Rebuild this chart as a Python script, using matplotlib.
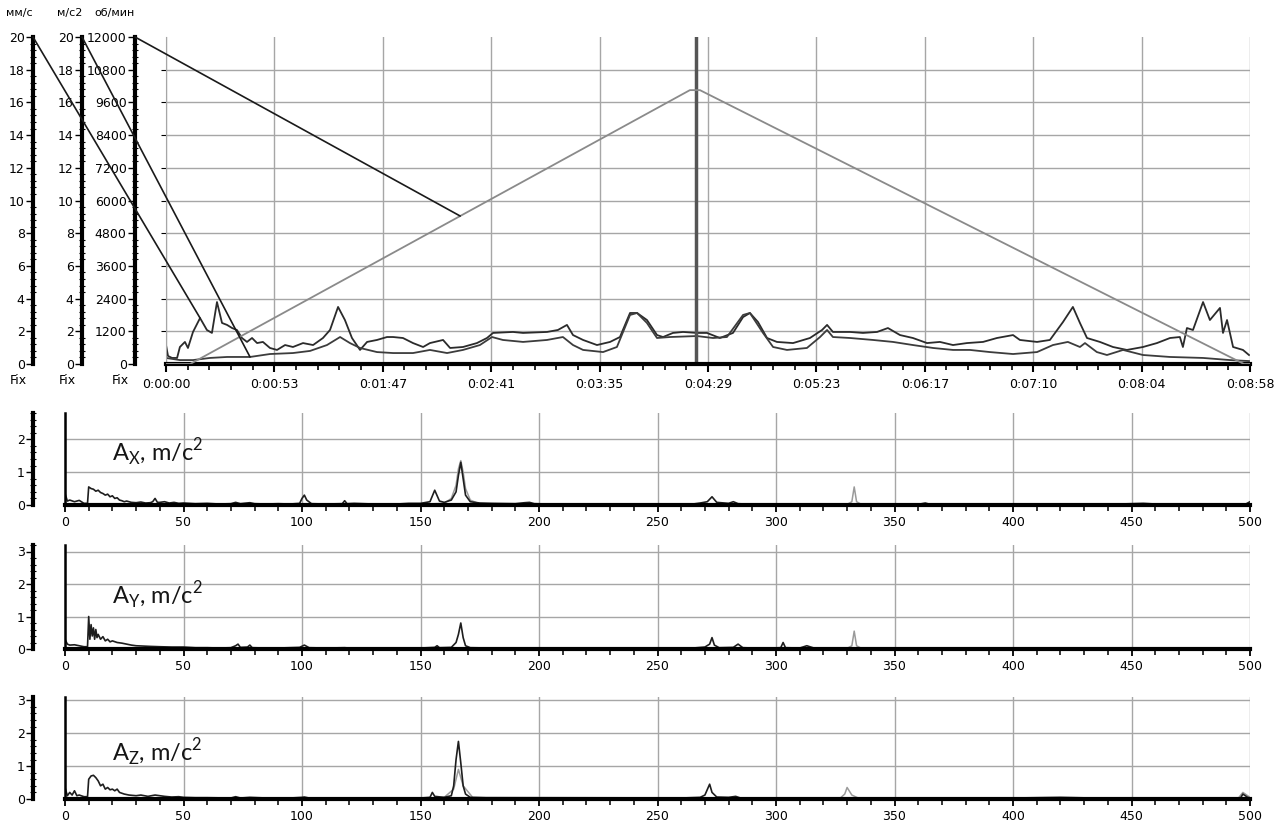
import numpy as np
import matplotlib
matplotlib.use('Agg')
import matplotlib.pyplot as plt
from matplotlib.ticker import MultipleLocator, FixedLocator
from matplotlib.patches import ConnectionPatch

plt.rcParams['font.family'] = ['DejaVu Sans']
plt.rcParams['mathtext.fontset'] = 'custom'
plt.rcParams['mathtext.rm'] = 'Lato'

# --- trend data (time in s, values in mm/s and m/s2, rpm) ---
t_a = [0, 1.0, 3.0, 5.5, 6.9, 9.4, 10.9, 13.4, 16.9, 20.3, 22.8, 25.3, 27.8, 30.3, 32.8, 35.2, 37.7, 40.2, 42.7, 45.2,
       48.1, 51.6, 55.1, 59.1, 63.0, 68.0, 73.0, 77.9, 81.4, 85.4, 88.8, 92.3, 96.3, 99.8, 104.7, 109.7, 112.7, 117.6, 122.6, 127.6,
       131.0, 137.5, 141.0, 147.4, 154.3, 159.3, 162.3, 172.2, 177.2, 189.1, 194.5, 199.0, 202.0, 207.0, 213.9, 220.4, 225.3,
       230.3, 233.8, 238.7, 243.7, 246.7, 251.6, 256.6, 263.5, 268.5,
       274.9, 281.4, 286.4, 289.8, 293.8, 298.3, 303.2, 311.2, 319.6, 325.6, 328.1, 331.0, 339.5, 345.9, 352.9, 358.3, 364.3,
       370.7, 377.7, 384.1, 390.6, 397.5,
       405.5, 412.4, 420.4, 423.8, 432.3, 438.7, 445.2, 450.1, 453.6, 457.1, 463.5, 470.0, 476.9, 484.9, 491.8, 498.3, 503.2,
       504.7, 506.7, 509.7, 514.7, 518.1, 523.1, 524.6, 526.6, 529.6, 534.5, 537.5]
v_a = [1.16, 0.49, 0.37, 0.37, 1.04, 1.35, 0.98, 1.96, 2.81, 2.08, 1.90, 3.79, 2.51, 2.39, 2.20, 2.08, 1.59, 1.35, 1.59, 1.28,
       1.35, 0.98, 0.86, 1.16, 1.04, 1.28, 1.16, 1.59, 2.08, 3.49, 2.69, 1.59, 0.86, 1.35, 1.47, 1.65, 1.65, 1.59, 1.28, 1.04,
       1.28, 1.47, 0.98, 1.04, 1.28, 1.59, 1.90, 1.96, 1.90, 1.96, 2.08, 2.39, 1.77, 1.47, 1.16, 1.35, 1.65,
       3.12, 3.12, 2.69, 1.77, 1.65, 1.90, 1.96, 1.90, 1.90,
       1.59, 1.90, 2.87, 3.12, 2.57, 1.59, 1.35, 1.28, 1.59, 2.08, 2.39, 1.96, 1.96, 1.90, 1.96, 2.20, 1.77,
       1.59, 1.28, 1.35, 1.16, 1.28,
       1.35, 1.59, 1.77, 1.47, 1.35, 1.47, 2.57, 3.49, 2.51, 1.59, 1.35, 1.04, 0.86, 1.04, 1.28, 1.59, 1.65,
       1.04, 2.20, 2.08, 3.79, 2.69, 3.43, 1.90, 2.69, 1.04, 0.86, 0.55]

t_b = [0, 6.9, 13.4, 21.8, 30.3, 41.7, 51.6, 63.0, 71.5, 79.9, 86.4, 91.3, 96.3, 104.7, 112.7, 122.6,
       131.0, 139.5, 147.4, 155.8, 161.8, 167.2, 177.2, 189.1, 197.0, 202.0, 207.0, 216.9, 223.8, 230.3, 233.8, 238.7, 243.7, 250.1, 263.5,
       271.5, 278.4, 286.4, 289.8, 296.3, 301.3, 308.2, 318.1, 324.6, 328.1, 331.0, 339.5, 350.9, 360.8, 370.7, 380.7, 390.6,
       399.0, 408.9, 420.4, 432.3, 440.2, 447.6, 453.6, 456.1, 462.0, 467.0, 475.0, 484.9, 498.3, 514.7, 528.1, 537.5]
v_b = [0.37, 0.24, 0.24, 0.37, 0.43, 0.43, 0.61, 0.67, 0.80, 1.16, 1.65, 1.28, 0.98, 0.73, 0.67, 0.67,
       0.86, 0.67, 0.86, 1.16, 1.65, 1.47, 1.35, 1.47, 1.65, 1.16, 0.86, 0.73, 1.04, 3.00, 3.12, 2.51, 1.59, 1.65, 1.71,
       1.59, 1.65, 3.00, 3.12, 1.90, 1.04, 0.86, 0.98, 1.65, 2.08, 1.65, 1.59, 1.47, 1.35, 1.16, 0.98, 0.86,
       0.86, 0.73, 0.61, 0.73, 1.16, 1.35, 1.04, 1.28, 0.73, 0.55, 0.86, 0.55, 0.43, 0.37, 0.24, 0.18]

t_rpm = [0, 12, 260, 265, 535, 538]
rpm = [0, 0, 10050, 10050, 0, 0]

cursor_t = 263
time_labels = ['0:00:00', '0:00:53', '0:01:47', '0:02:41', '0:03:35', '0:04:29',
               '0:05:23', '0:06:17', '0:07:10', '0:08:04', '0:08:58']

# --- spectra (Hz, m/c2) ---
ax_black = [(0, 0.35), (1, 0.12), (2, 0.15), (4, 0.1), (6, 0.14), (8, 0.05), (9.5, 0.05), (10, 0.55), (11, 0.5), (12, 0.48),
            (13, 0.42), (14, 0.45), (15, 0.38), (16, 0.35), (17, 0.3), (18, 0.33), (19, 0.25), (20, 0.28), (21, 0.2), (22, 0.22),
            (23, 0.15), (24, 0.13), (25, 0.1), (26, 0.12), (28, 0.08), (30, 0.07), (32, 0.09), (34, 0.06), (36, 0.07), (37, 0.1),
            (38, 0.2), (39, 0.08), (40, 0.08), (42, 0.1), (44, 0.06), (46, 0.08), (48, 0.05), (50, 0.06), (55, 0.04), (60, 0.05),
            (65, 0.03), (70, 0.04), (72, 0.08), (74, 0.04), (78, 0.07), (80, 0.04), (85, 0.03), (90, 0.04), (95, 0.03), (99, 0.05),
            (100, 0.2), (101, 0.3), (102, 0.15), (104, 0.04), (110, 0.03), (117, 0.04), (118, 0.13), (119, 0.04), (122, 0.05),
            (130, 0.03), (140, 0.03), (145, 0.05), (150, 0.05), (154, 0.1), (156, 0.45), (158, 0.12), (160, 0.08), (163, 0.15),
            (165, 0.4), (166, 0.9), (167, 1.3), (168, 0.8), (169, 0.3), (171, 0.1), (175, 0.06), (180, 0.05), (190, 0.04),
            (194, 0.07), (196, 0.08), (198, 0.04), (210, 0.02), (230, 0.02), (250, 0.02), (265, 0.03), (268, 0.06), (271, 0.1),
            (273, 0.25), (275, 0.08), (280, 0.05), (282, 0.1), (284, 0.04), (290, 0.02), (300, 0.03), (320, 0.02), (340, 0.02),
            (360, 0.02), (363, 0.06), (365, 0.02), (380, 0.03), (400, 0.02), (420, 0.02), (440, 0.02), (450, 0.04), (455, 0.05),
            (460, 0.03), (480, 0.02), (498, 0.02), (499, 0.06), (500, 0.1)]
ax_gray = [(0, 0.02), (150, 0.02), (160, 0.05), (163, 0.2), (165, 0.6), (166, 1.1), (167, 1.35), (168, 1.0), (169, 0.5),
           (171, 0.15), (175, 0.03), (330, 0.02), (332, 0.1), (333, 0.55), (334, 0.1), (336, 0.02), (500, 0.02)]

ay_black = [(0, 0.3), (1, 0.15), (2, 0.12), (4, 0.13), (6, 0.1), (8, 0.07), (9.5, 0.07), (10, 1.0), (10.5, 0.3), (11, 0.75),
            (11.5, 0.4), (12, 0.65), (12.5, 0.3), (13, 0.6), (13.5, 0.35), (14, 0.45), (15, 0.3), (16, 0.38), (17, 0.25),
            (18, 0.3), (19, 0.22), (20, 0.25), (22, 0.2), (24, 0.18), (26, 0.15), (28, 0.12), (30, 0.1), (33, 0.09), (36, 0.08),
            (40, 0.07), (45, 0.06), (50, 0.06), (55, 0.04), (60, 0.04), (65, 0.03), (70, 0.04), (72, 0.1), (73, 0.15), (74, 0.05),
            (77, 0.06), (78, 0.12), (79, 0.04), (85, 0.03), (90, 0.03), (99, 0.05), (101, 0.12), (103, 0.04), (110, 0.03),
            (118, 0.04), (120, 0.03), (130, 0.02), (140, 0.02), (150, 0.03), (156, 0.05), (157, 0.1), (158, 0.04), (163, 0.05),
            (165, 0.2), (166, 0.45), (167, 0.8), (168, 0.35), (169, 0.1), (171, 0.04), (180, 0.03), (200, 0.02), (230, 0.02),
            (250, 0.02), (265, 0.03), (270, 0.06), (272, 0.15), (273, 0.35), (274, 0.12), (276, 0.04), (282, 0.05), (284, 0.15),
            (286, 0.04), (295, 0.02), (302, 0.04), (303, 0.2), (304, 0.04), (310, 0.03), (313, 0.1), (316, 0.03), (320, 0.02),
            (330, 0.02), (340, 0.02), (360, 0.02), (400, 0.02), (450, 0.02), (500, 0.02)]
ay_gray = [(0, 0.02), (330, 0.02), (332, 0.1), (333, 0.55), (334, 0.1), (336, 0.02), (500, 0.02)]

az_black = [(0, 0.35), (1, 0.1), (2, 0.2), (3, 0.12), (4, 0.25), (5, 0.1), (6, 0.12), (8, 0.07), (9.5, 0.07), (10, 0.6),
            (11, 0.7), (12, 0.72), (13, 0.65), (14, 0.55), (15, 0.4), (16, 0.45), (17, 0.3), (18, 0.35), (19, 0.28), (20, 0.3),
            (21, 0.25), (22, 0.3), (23, 0.2), (25, 0.15), (27, 0.12), (30, 0.1), (32, 0.12), (35, 0.08), (38, 0.12), (40, 0.1),
            (42, 0.08), (45, 0.06), (48, 0.07), (50, 0.05), (55, 0.04), (60, 0.04), (70, 0.03), (72, 0.07), (74, 0.03),
            (78, 0.05), (85, 0.03), (95, 0.03), (100, 0.05), (101, 0.06), (103, 0.03), (120, 0.03), (140, 0.02), (150, 0.03),
            (154, 0.05), (155, 0.2), (156, 0.08), (160, 0.05), (163, 0.1), (164, 0.4), (165, 1.2), (166, 1.75), (167, 1.1),
            (168, 0.4), (169, 0.15), (171, 0.05), (180, 0.03), (200, 0.02), (230, 0.02), (260, 0.03), (268, 0.05), (270, 0.12),
            (272, 0.45), (273, 0.2), (275, 0.06), (280, 0.05), (283, 0.08), (285, 0.03), (300, 0.02), (330, 0.03), (400, 0.03),
            (420, 0.05), (440, 0.02), (480, 0.02), (496, 0.03), (497, 0.15), (499, 0.05), (500, 0.03)]
az_gray = [(0, 0.02), (155, 0.02), (160, 0.05), (164, 0.3), (166, 0.9), (168, 0.4), (172, 0.05), (327, 0.02), (329, 0.15),
           (330, 0.35), (332, 0.12), (335, 0.02), (495, 0.02), (497, 0.2), (500, 0.05)]

W, H = 1284, 827
GRID = '#a6a6a6'


def fx(px):
    return px / W


def fy(py):
    return 1 - py / H


fig = plt.figure(figsize=(W / 100, H / 100), dpi=100)

# ---------------- trend panel ----------------
main = fig.add_axes([fx(166), fy(364), fx(1250) - fx(166), fy(37) - fy(364)])
main.set_xlim(0, 538)
main.set_ylim(0, 20)
main.xaxis.set_major_locator(FixedLocator([i * 53.8 for i in range(11)]))
main.xaxis.set_minor_locator(FixedLocator([i * 53.8 / 5 for i in range(51)]))
main.set_xticklabels(time_labels)
main.set_yticks([2, 4, 6, 8, 10, 12, 14, 16, 18])
main.tick_params(axis='y', left=False, labelleft=False)
main.tick_params(axis='x', which='major', direction='out', length=6, width=1.5, labelsize=9, pad=4)
main.tick_params(axis='x', which='minor', direction='out', length=4, width=1.2)
main.grid(True, color=GRID, linewidth=1)
for s in ['top', 'right']:
    main.spines[s].set_visible(False)
main.spines['left'].set_color(GRID)
main.spines['bottom'].set_linewidth(3)

main.plot(t_a, v_a, color='#2b2b2b', linewidth=1.3)
main.plot(t_b, v_b, color='#3c3c3c', linewidth=1.3)
main.axvline(cursor_t, color='#555555', linewidth=2.5)

rpm_ax = main.twinx()
rpm_ax.set_ylim(0, 12000)
rpm_ax.axis('off')
rpm_ax.plot(t_rpm, rpm, color='#8a8a8a', linewidth=1.3)

# scale rulers on the left
scales = [(33, 20, 2, 0.4, 'мм/с'), (82, 20, 2, 0.4, 'м/с2'), (135, 12000, 1200, 240, 'об/мин')]
rulers = []
for xpx, top, major, minor, unit in scales:
    r = fig.add_axes([fx(xpx), fy(364), 0.0005, fy(37) - fy(364)])
    r.set_ylim(0, top)
    r.set_xticks([])
    r.yaxis.set_major_locator(MultipleLocator(major))
    r.yaxis.set_minor_locator(MultipleLocator(minor))
    r.tick_params(axis='y', which='major', direction='out', length=5, width=1, labelsize=9, pad=1)
    r.tick_params(axis='y', which='minor', direction='inout', length=4, width=0.8)
    for s in ['top', 'right', 'bottom']:
        r.spines[s].set_visible(False)
    r.spines['left'].set_linewidth(3)
    r.patch.set_visible(False)
    fig.text(fx(xpx), fy(13), unit, ha='right', va='center', fontsize=8)
    fig.text(fx(xpx - 6), fy(381), 'Fix', ha='right', va='center', fontsize=9)
    rulers.append(r)

# link lines from scale tops to the traces
links = [(rulers[0], 20, main, 16.9, 2.81),
         (rulers[1], 20, main, 41.7, 0.43),
         (rulers[2], 12000, rpm_ax, 146, np.interp(146, t_rpm, rpm))]
for ra, top, tgt, tx, ty in links:
    con = ConnectionPatch(xyA=(0, top), coordsA=ra.transData, xyB=(tx, ty), coordsB=tgt.transData,
                          color='#1a1a1a', linewidth=1.2)
    fig.add_artist(con)

# ---------------- spectra ----------------
panels = [(505, 413, 2.8, [1, 2], ax_black, ax_gray, 'X', 462),
          (649, 545, 3.2, [1, 2, 3], ay_black, ay_gray, 'Y', 605),
          (799, 697, 3.1, [1, 2, 3], az_black, az_gray, 'Z', 762)]
for ybot, ytop, ymax, hlines, black, gray, name, base in panels:
    sp = fig.add_axes([fx(65), fy(ybot), fx(1250) - fx(65), fy(ytop) - fy(ybot)])
    sp.set_xlim(0, 500)
    sp.set_ylim(0, ymax)
    sp.xaxis.set_major_locator(MultipleLocator(50))
    sp.xaxis.set_minor_locator(MultipleLocator(10))
    sp.set_yticks(hlines)
    sp.tick_params(axis='y', left=False, labelleft=False)
    sp.tick_params(axis='x', which='major', direction='out', length=5, width=1.3, labelsize=9, pad=3)
    sp.tick_params(axis='x', which='minor', direction='out', length=4, width=1.1)
    sp.grid(True, color=GRID, linewidth=1)
    for s in ['top', 'right']:
        sp.spines[s].set_visible(False)
    sp.spines['left'].set_linewidth(1.8)
    sp.spines['bottom'].set_linewidth(3)
    gf, ga = zip(*gray)
    sp.plot(gf, ga, color='#9a9a9a', linewidth=1.1)
    bf, ba = zip(*black)
    sp.plot(bf, ba, color='#1e1e1e', linewidth=1.2)

    r = fig.add_axes([fx(33), fy(ybot), 0.0005, fy(ytop) - fy(ybot)])
    r.set_ylim(0, ymax)
    r.set_xticks([])
    r.yaxis.set_major_locator(MultipleLocator(1))
    r.yaxis.set_minor_locator(MultipleLocator(0.2))
    r.tick_params(axis='y', which='major', direction='out', length=5, width=1, labelsize=9, pad=1)
    r.tick_params(axis='y', which='minor', direction='inout', length=4, width=0.8)
    for s in ['top', 'right', 'bottom']:
        r.spines[s].set_visible(False)
    r.spines['left'].set_linewidth(3)
    r.patch.set_visible(False)

    fig.text(fx(112), fy(base), r'A$_{\mathrm{' + name + r'}}$, m/c$^{\mathrm{2}}$', family='Lato',
             fontsize=17, color='#151515', ha='left', va='baseline')

fig.savefig('out.png', dpi=100)
